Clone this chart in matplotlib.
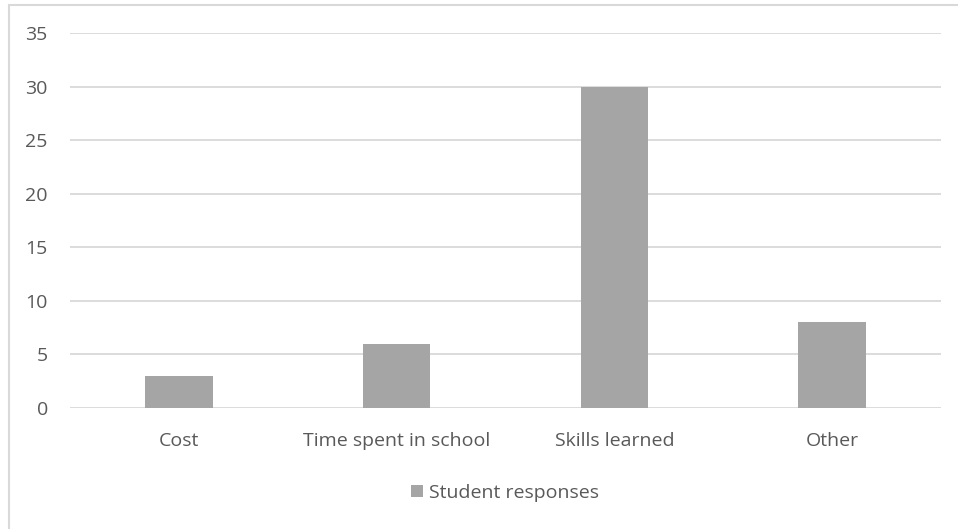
import matplotlib
matplotlib.use("Agg")
import matplotlib.pyplot as plt
from matplotlib.patches import Rectangle

plt.rcParams.update({
    "font.family": ["Open Sans", "DejaVu Sans"],
    "font.size": 14,
})

CATEGORIES = ["Cost", "Time spent in school", "Skills learned", "Other"]
RESPONSES = [3, 6, 30, 8]
YTICKS = [0, 5, 10, 15, 20, 25, 30, 35]

BAR = "#A5A5A5"; GRID = "#D9D9D9"; TXT = "#595959"

fig = plt.figure(figsize=(9.58, 5.29), dpi=100)
ax = fig.add_axes([0.0731, 0.2287, 0.9092, 0.7089])

x = range(len(CATEGORIES))
ax.bar(x, RESPONSES, 0.31, color=BAR, label="Student responses", zorder=3)

ax.set_xlim(-0.5, len(CATEGORIES) - 0.5)
ax.set_ylim(0, 35)
ax.set_yticks(YTICKS)
ax.set_xticks(list(x))
ax.set_xticklabels(CATEGORIES)
ax.grid(axis="y", color=GRID, linewidth=1.3, zorder=0)
for s in ax.spines.values():
    s.set_visible(False)
ax.tick_params(length=0, colors=TXT, labelsize=14)
ax.tick_params(axis="y", pad=16)
ax.tick_params(axis="x", pad=17)

leg = fig.legend(loc="center", bbox_to_anchor=(0.527, 0.068), frameon=False,
                 handlelength=0.6, handleheight=0.6, handletextpad=0.3,
                 fontsize=14)
for t in leg.get_texts():
    t.set_color(TXT)

# chart-area border (only left and top visible in crop)
fig.add_artist(Rectangle((9 / 958, -0.1), 1.2, 1 - 5 / 529 + 0.1,
                         transform=fig.transFigure, fill=False,
                         edgecolor=GRID, linewidth=1.5))

fig.savefig("out.png", dpi=100, facecolor="white")
